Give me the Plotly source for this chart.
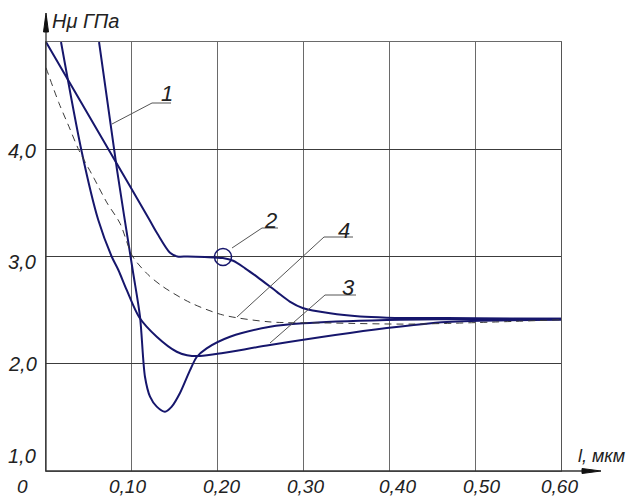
import plotly.graph_objects as go

# ---------------- data ----------------
# curve 1
x1 = [0.0618, 0.0827, 0.101, 0.1095, 0.1153, 0.1212, 0.129, 0.1386, 0.1465, 0.1561,
      0.1678, 0.1756, 0.1872, 0.2144, 0.261, 0.2994, 0.397, 0.467, 0.6]
y1 = [5.0, 3.81, 2.874, 2.44, 1.879, 1.693, 1.60, 1.553, 1.60, 1.727,
      1.94, 2.063, 2.144, 2.252, 2.345, 2.377, 2.408, 2.415, 2.42]

# curve 2 (with the plateau near 3.0)
x2 = [0.0, 0.04, 0.08, 0.12, 0.13, 0.1445, 0.153, 0.165, 0.185, 0.206, 0.218, 0.232,
      0.246, 0.269, 0.284, 0.299, 0.331, 0.366, 0.397, 0.5, 0.6]
y2 = [5.0, 4.45, 3.90, 3.35, 3.21, 3.035, 3.0, 3.0, 2.995, 2.985, 2.96, 2.89,
      2.81, 2.67, 2.58, 2.52, 2.47, 2.44, 2.43, 2.425, 2.42]

# curve 3
x3 = [0.0175, 0.0416, 0.0609, 0.0765, 0.0843, 0.094, 0.1084, 0.129, 0.1523, 0.1643,
      0.1794, 0.2062, 0.261, 0.397, 0.467, 0.6]
y3 = [5.0, 3.977, 3.34, 3.0, 2.874, 2.688, 2.436, 2.252, 2.112, 2.08,
      2.072, 2.10, 2.175, 2.333, 2.39, 2.41]

# curve 4 (dashed)
x4 = [0.0, 0.0151, 0.0268, 0.0384, 0.0559, 0.0711, 0.0862, 0.101, 0.119, 0.136,
      0.168, 0.206, 0.261, 0.331, 0.4276, 0.6]
y4 = [4.76, 4.43, 4.21, 3.99, 3.73, 3.50, 3.31, 3.0, 2.83, 2.72,
      2.57, 2.455, 2.39, 2.38, 2.37, 2.41]

x_tick_vals = [0.0, 0.1, 0.2, 0.3, 0.4, 0.5, 0.6]
x_tick_text = ["0", "0,10", "0,20", "0,30", "0,40", "0,50", "0,60"]
y_tick_vals = [1.0, 2.0, 3.0, 4.0]
y_tick_text = ["1,0", "2,0", "3,0", "4,0"]
curve_names = ["1", "2", "3", "4"]

# ---------------- layout geometry ----------------
W, H = 626, 498
L, R, T, B = 46, 65, 42, 27
PW, PH = W - L - R, H - T - B
XR = [0.0, 0.6]
YR = [1.0, 5.0]


def dx(px):
    return XR[0] + (px - L) / PW * (XR[1] - XR[0])


def dy(py):
    return YR[1] - (py - T) / PH * (YR[1] - YR[0])


def pxp(px):
    return (px - L) / PW


def pyp(py):
    return (H - B - py) / PH


navy = "#16166c"
grid = "#6a6a6a"
FONT = "Liberation Sans Narrow, Liberation Sans, Arial Narrow, sans-serif"

fig = go.Figure()
for xs, ys in [(x1, y1), (x2, y2), (x3, y3)]:
    fig.add_trace(go.Scatter(x=xs, y=ys, mode="lines",
                             line=dict(color=navy, width=2, shape="spline", smoothing=0.8),
                             hoverinfo="skip"))
fig.add_trace(go.Scatter(x=x4, y=y4, mode="lines",
                         line=dict(color="#3a3a3a", width=1, dash="7px,5px",
                                   shape="spline", smoothing=0.8),
                         hoverinfo="skip"))

shapes = []
# extended axes (beyond plot area) with arrowheads
shapes.append(dict(type="line", xref="paper", yref="paper", x0=0, y0=0, x1=0, y1=pyp(18),
                   line=dict(color="#333", width=1.3)))
shapes.append(dict(type="line", xref="paper", yref="paper", x0=0, y0=0, x1=pxp(590), y1=0,
                   line=dict(color="#333", width=1.3)))
shapes.append(dict(type="path", xref="paper", yref="paper",
                   path=f"M {pxp(46)} {pyp(13)} L {pxp(43.5)} {pyp(32)} L {pxp(48.5)} {pyp(32)} Z",
                   fillcolor="#111", line=dict(color="#111", width=1)))
shapes.append(dict(type="path", xref="paper", yref="paper",
                   path=f"M {pxp(601)} {pyp(471)} L {pxp(582)} {pyp(468.5)} L {pxp(582)} {pyp(473.5)} Z",
                   fillcolor="#111", line=dict(color="#111", width=1)))

# leader lines for curve labels (pixel positions -> data)
leaders = [
    [(112, 124), (152, 103), (171, 103)],
    [(232, 248), (262, 228), (278, 228)],
    [(270, 343), (325, 295), (356, 295)],
    [(237, 317), (324, 237), (353, 237)],
]
for pts in leaders:
    path = "M " + " L ".join(f"{dx(a)} {dy(b)}" for a, b in pts)
    shapes.append(dict(type="path", xref="x", yref="y", path=path,
                       line=dict(color="#555", width=1)))
# small circle on curve 2
shapes.append(dict(type="circle", xref="x", yref="y",
                   x0=dx(214.5), x1=dx(231.5), y0=dy(265.5), y1=dy(248.5),
                   line=dict(color=navy, width=1.5)))

ann = []
tfont = dict(family=FONT, size=20, color="#222", style="italic")
y_shifts = [15, 0, -5, -2]
for v, t, s in zip(y_tick_vals, y_tick_text, y_shifts):
    ann.append(dict(x=pxp(22), xref="paper", y=v, yref="y", text=t, showarrow=False,
                    xanchor="center", yanchor="middle", yshift=s, font=tfont))
xfont = dict(family=FONT, size=19, color="#222", style="italic")
x_shifts = [-24, -4, 4, 2, 8, 6, -2]
for v, t, s in zip(x_tick_vals, x_tick_text, x_shifts):
    ann.append(dict(x=v, xref="x", y=0, yref="paper", text=t, showarrow=False,
                    xanchor="center", yanchor="middle", xshift=s, yshift=-15, font=xfont))

label_px = [(167, 93), (270, 220), (348, 287), (344, 230)]
for name, (a, b) in zip(curve_names, label_px):
    ann.append(dict(x=dx(a), xref="x", y=dy(b), yref="y", text=name, showarrow=False,
                    xanchor="center", yanchor="middle", font=dict(family=FONT, size=22,
                                                                   color="#222", style="italic")))

ann.append(dict(x=pxp(50), xref="paper", y=pyp(21), yref="paper", text="Hμ ГПа",
                showarrow=False, xanchor="left", yanchor="middle",
                font=dict(family=FONT, size=20, color="#222", style="italic")))
ann.append(dict(x=pxp(576), xref="paper", y=pyp(456), yref="paper", text="l, мкм",
                showarrow=False, xanchor="left", yanchor="middle",
                font=dict(family=FONT, size=18, color="#222", style="italic")))

fig.update_layout(
    width=W, height=H,
    margin=dict(l=L, r=R, t=T, b=B),
    paper_bgcolor="white", plot_bgcolor="white",
    showlegend=False,
    xaxis=dict(range=XR, tickvals=x_tick_vals, showticklabels=False, ticks="",
               showgrid=True, gridcolor=grid, gridwidth=1, zeroline=False,
               showline=True, linecolor=grid, linewidth=1, mirror=True, fixedrange=True),
    yaxis=dict(range=YR, tickvals=y_tick_vals + [5.0], showticklabels=False, ticks="",
               showgrid=True, gridcolor="#3c3c3c", gridwidth=1, zeroline=False,
               showline=True, linecolor="#555", linewidth=1, mirror=True, fixedrange=True),
    shapes=shapes,
    annotations=ann,
)

fig.write_html("out.html")
